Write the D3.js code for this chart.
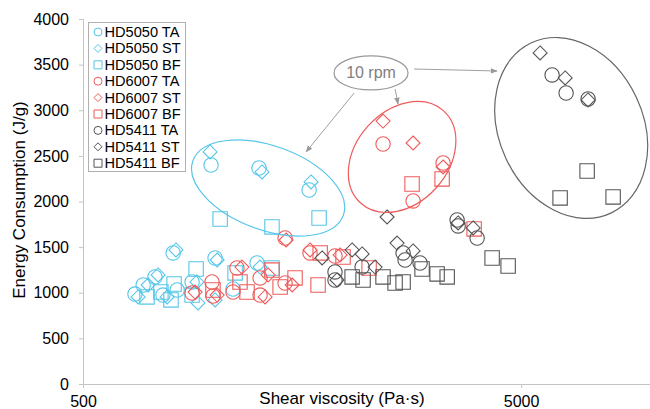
<!DOCTYPE html>
<html><head><meta charset="utf-8">
<script src="https://cdn.jsdelivr.net/npm/d3@7"></script>
<style>
body{margin:0;background:#fff;}
svg{display:block;font-family:"Liberation Sans",Arial,sans-serif;}
</style></head>
<body><svg id="c" width="650" height="409"></svg>
<script>
// ---- data: [shear viscosity (Pa·s), energy consumption (J/g)] ----
const hd5050TA = [[980,2400],[1261,2367],[1641,2126],[657,986],[686,1085],[730,1173],[761,975],[803,1436],[820,1030],[887,1118],[1001,1381],[1100,1041],[1248,1326]];
const hd5050ST = [[975,2543],[1281,2324],[1658,2214],[668,954],[704,1085],[742,1195],[778,954],[815,1469],[910,1118],[1012,1359],[1268,1282],[915,888],[1001,921]];
const hd5050BF = [[1028,1808],[1350,1721],[1729,1819],[700,954],[753,1008],[807,1096],[794,921],[906,1260],[887,975],[1112,1217],[1350,1271]];
const hd6007TA = [[2420,2630],[3318,2422],[2834,2006],[1446,1600],[1649,1436],[1880,1403],[887,997],[985,1118],[990,964],[1123,1271],[1100,1008],[1268,1162],[1268,975],[1446,1107]];
const hd6007ST = [[2420,2882],[2834,2641],[3318,2378],[1454,1578],[1649,1469],[1931,1414],[901,1008],[1012,975],[1153,1282],[1323,1195],[1302,954],[1501,1085]];
const hd6007BF = [[2819,2192],[3301,2247],[3906,1699],[1739,1436],[1961,1392],[2249,1271],[1141,1118],[1184,1008],[1350,1249],[1409,1063],[1524,1162],[1720,1085],[990,1030]];
const hd5411TA = [[5884,3387],[6334,3189],[7110,3124],[3572,1797],[3591,1732],[3968,1600],[2689,1436],[2717,1359],[2940,1326],[1880,1228],[1880,1140],[2168,1282]];
const hd5411ST = [[5525,3628],[6302,3354],[7110,3113],[2472,1830],[3591,1765],[3886,1710],[2605,1545],[2834,1458],[2057,1469],[2168,1425],[1757,1381],[1900,1140],[2321,1282]];
const hd5411BF = [[7073,2334],[6137,2039],[8109,2050],[4293,1381],[4670,1293],[2971,1260],[3215,1206],[3390,1173],[2057,1173],[2179,1140],[2420,1173],[2578,1107],[2689,1118]];

const seriesNames = ["HD5050 TA","HD5050 ST","HD5050 BF","HD6007 TA","HD6007 ST","HD6007 BF","HD5411 TA","HD5411 ST","HD5411 BF"];
const seriesData = [hd5050TA,hd5050ST,hd5050BF,hd6007TA,hd6007ST,hd6007BF,hd5411TA,hd5411ST,hd5411BF];
const seriesShape = ["circle","diamond","square","circle","diamond","square","circle","diamond","square"];
const seriesColor = ["#55c6e8","#55c6e8","#55c6e8","#ef5b5b","#ef5b5b","#ef5b5b","#555555","#555555","#555555"];

const yTicks = [0,500,1000,1500,2000,2500,3000,3500,4000];
const xTicks = [500,5000];
const xTitle = "Shear viscosity (Pa·s)";
const yTitle = "Energy Consumption (J/g)";

// annotation: 10 rpm groups (centres in data units)
const noteLabel = "10 rpm";
const noteCenter = [2272,3409];
const groupEllipses = [
  {c:[1323,2148], rx:80, ry:42, rot:20, color:"#55c6e8"},
  {c:[2675,2488], rx:62, ry:46, rot:-48, color:"#ef5b5b"},
  {c:[6505,2806], rx:72, ry:94, rot:-25, color:"#666666"}
];
const arrows = [
  [[2079,3189],[1615,2543]],
  [[2578,3233],[2619,3069]],
  [[2849,3452],[4406,3430]]
];

// ---- drawing ----
const svg = d3.select("#c");
const x = d3.scaleLog().domain([500,10000]).range([83,653]);
const y = d3.scaleLinear().domain([0,4000]).range([384,19]);

const axisColor = "#c4c4c4";
// y axis
const ya = svg.append("g").attr("transform","translate(83,0)")
  .call(d3.axisLeft(y).tickValues(yTicks).tickSize(4).tickPadding(10).tickFormat(d3.format("d")));
ya.select(".domain").attr("stroke",axisColor);
ya.selectAll(".tick line").attr("stroke",axisColor);
ya.selectAll(".tick text").attr("font-size",16).attr("fill","#000").attr("font-family","Liberation Sans, Arial");
// x axis
const xa = svg.append("g").attr("transform","translate(0,384)")
  .call(d3.axisBottom(x).tickValues(xTicks).tickSize(4).tickPadding(8).tickFormat(d3.format("d")));
xa.select(".domain").attr("stroke",axisColor);
xa.selectAll(".tick line").attr("stroke",axisColor);
xa.selectAll(".tick text").attr("font-size",16).attr("fill","#000").attr("font-family","Liberation Sans, Arial");

svg.append("text").attr("x",342).attr("y",404).attr("text-anchor","middle")
  .attr("font-size",17).text(xTitle);
svg.append("text").attr("transform","translate(25,200) rotate(-90)").attr("text-anchor","middle")
  .attr("font-size",17).text(yTitle);

function shapePath(shape, s){
  if(shape==="circle") return d3.symbol().type(d3.symbolCircle).size(Math.PI*s*s)();
  if(shape==="square") return `M${-s},${-s}H${s}V${s}H${-s}Z`;
  return `M0,${-s}L${s},0L0,${s}L${-s},0Z`;
}
const shapeSize = {circle:7.2, square:7.2, diamond:7};

// points
seriesData.forEach((data,i)=>{
  svg.append("g").selectAll("path").data(data).join("path")
    .attr("transform",d=>`translate(${x(d[0])},${y(d[1])})`)
    .attr("d",shapePath(seriesShape[i],shapeSize[seriesShape[i]]))
    .attr("fill","none").attr("stroke",seriesColor[i]).attr("stroke-width",1.1);
});

// group ellipses
groupEllipses.forEach(e=>{
  svg.append("ellipse")
    .attr("transform",`translate(${x(e.c[0])},${y(e.c[1])}) rotate(${e.rot})`)
    .attr("rx",e.rx).attr("ry",e.ry).attr("fill","none")
    .attr("stroke",e.color).attr("stroke-width",1.2);
});

// arrows
const defs = svg.append("defs");
defs.append("marker").attr("id","ah").attr("viewBox","0 0 10 10").attr("refX",9).attr("refY",5)
  .attr("markerWidth",7).attr("markerHeight",7).attr("orient","auto")
  .append("path").attr("d","M0,1L10,5L0,9Z").attr("fill","#9a9a9a");
arrows.forEach(a=>{
  svg.append("line").attr("x1",x(a[0][0])).attr("y1",y(a[0][1]))
    .attr("x2",x(a[1][0])).attr("y2",y(a[1][1]))
    .attr("stroke","#a0a0a0").attr("stroke-width",1).attr("marker-end","url(#ah)");
});
// note
svg.append("ellipse").attr("cx",x(noteCenter[0])).attr("cy",y(noteCenter[1]))
  .attr("rx",37).attr("ry",17).attr("fill","#fff").attr("stroke","#9a9a9a").attr("stroke-width",1.2);
svg.append("text").attr("x",x(noteCenter[0])).attr("y",y(noteCenter[1])+5.5)
  .attr("text-anchor","middle").attr("font-size",16).attr("fill","#808080").text(noteLabel);

// legend
const lg = svg.append("g");
lg.append("rect").attr("x",88.5).attr("y",22.5).attr("width",97).attr("height",149)
  .attr("fill","#fff").attr("stroke","#b0b0b0").attr("stroke-width",1);
seriesNames.forEach((n,i)=>{
  const yy = 32 + i*16.4;
  lg.append("path").attr("transform",`translate(98,${yy})`)
    .attr("d",shapePath(seriesShape[i],4)).attr("fill","none")
    .attr("stroke",seriesColor[i]).attr("stroke-width",1);
  lg.append("text").attr("x",104.5).attr("y",yy+5).attr("font-size",14.6).attr("fill","#000").text(n);
});
</script></body></html>
